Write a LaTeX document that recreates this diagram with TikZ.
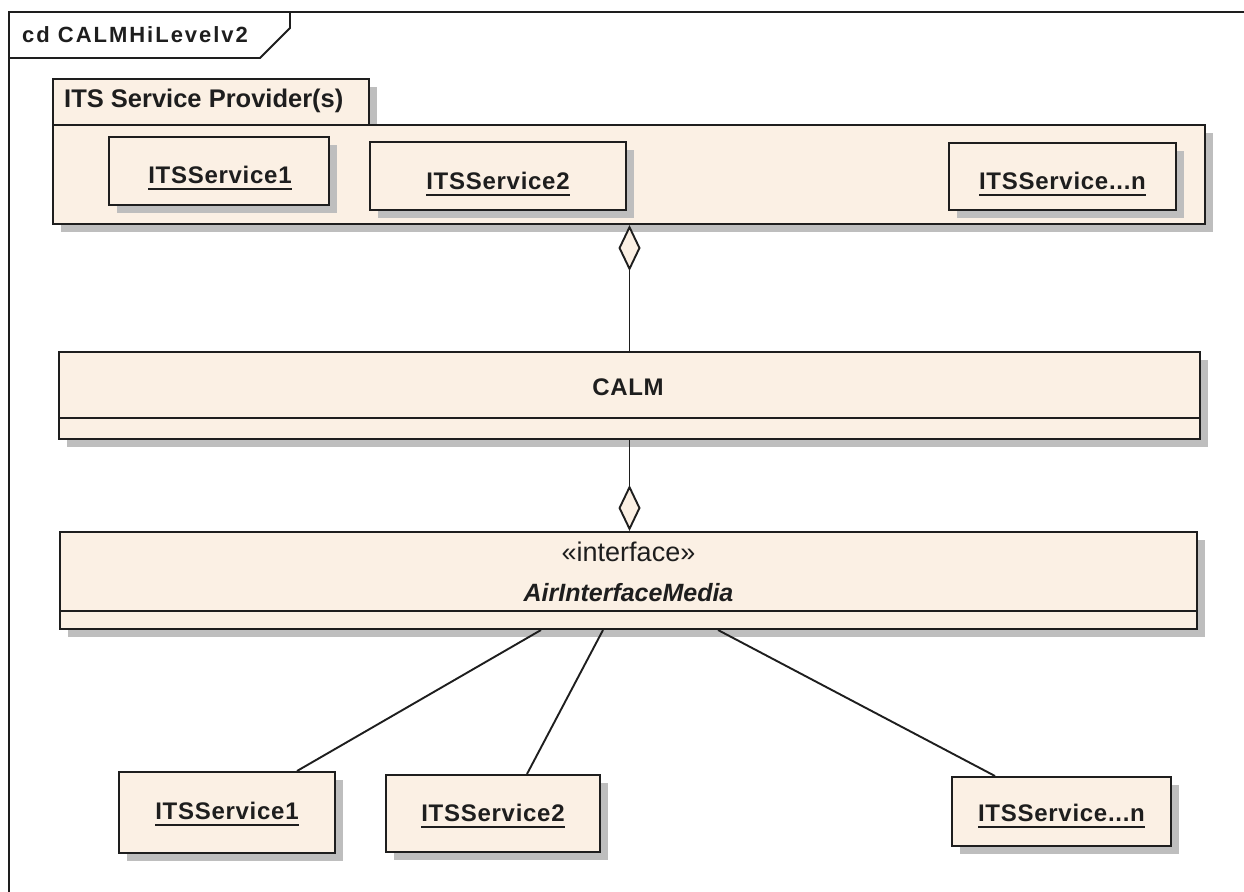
\documentclass[tikz,border=0pt]{standalone}
\usepackage{fontspec}
\setmainfont{Liberation Sans}
\usetikzlibrary{arrows.meta,shadows,calc}
\definecolor{classfill}{RGB}{251,240,228}
\definecolor{shadowgray}{RGB}{190,190,190}
\definecolor{ink}{RGB}{30,30,30}
% underlined instance name, rule a few points under the baseline
\newcommand\ulname[1]{\setbox0\hbox{#1}\rlap{\rule[-6.5pt]{\wd0}{1.8pt}}\box0}
\tikzset{
  classbox/.style={draw=ink, fill=classfill, line width=2pt, inner sep=0pt,
    drop shadow={shadow xshift=8pt, shadow yshift=-8pt, fill=shadowgray, opacity=1}},
  boxlabel/.style={anchor=base, text=ink, inner sep=0pt,
    font=\bfseries\fontsize{24}{28}\selectfont\addfontfeature{LetterSpace=3}},
  link/.style={draw=ink, line width=1.9pt},
  agg/.style={link, -{Diamond[length=46pt, width=22pt, fill=classfill, line width=1.9pt]}},
}
\begin{document}
\begin{tikzpicture}[x=1pt, y=-1pt]
\useasboundingbox (0,0) rectangle (1244,891);
\fill[white] (0,0) rectangle (1244,891);
\begin{scope}
\clip (0,0) rectangle (1244,891);
% diagram frame with its name tab
\draw[link] (9,900) -- (9,12) -- (1260,12);
\draw[link] (9,58) -- (260,58) -- (290,28) -- (290,12);
\end{scope}
\node[anchor=base west, inner sep=0pt, text=ink,
  font=\bfseries\fontsize{22}{26}\selectfont\addfontfeature{LetterSpace=9}]
  (frametitle) at (22,43) {cd CALMHiLevelv2};

% package: tab first, then body
\node[classbox, minimum width=316pt, minimum height=46pt, anchor=north west] (pkgtab) at (52,78) {};
\node[classbox, minimum width=1152pt, minimum height=99pt, anchor=north west] (pkgbody) at (52,124) {};
\node[anchor=base west, inner sep=0pt, text=ink, font=\bfseries\fontsize{25.5}{30}\selectfont]
  (pkgtitle) at (64,107) {ITS Service Provider(s)};

% services inside the package
\node[classbox, minimum width=220pt, minimum height=68pt] (s1) at (219,171) {};
\node[boxlabel] (s1t) at (220,183) {\ulname{ITSService1}};
\node[classbox, minimum width=256pt, minimum height=68pt] (s2) at (498,176) {};
\node[boxlabel] (s2t) at (498,189) {\ulname{ITSService2}};
\node[classbox, minimum width=227pt, minimum height=67pt] (sn) at (1062.5,176.5) {};
\node[boxlabel] (snt) at (1062.5,189) {\ulname{ITSService...n}};

% CALM class
\node[classbox, minimum width=1141pt, minimum height=87pt] (calm) at (629.5,395.5) {};
\draw[link] (calm.west |- 0,418) -- (calm.east |- 0,418);
\node[boxlabel] (calmt) at (628,395) {CALM};

% AirInterfaceMedia interface
\node[classbox, minimum width=1137pt, minimum height=97pt] (iface) at (628.5,580.5) {};
\draw[link] (iface.west |- 0,611) -- (iface.east |- 0,611);
\node[anchor=base, inner sep=0pt, text=ink, font=\fontsize{27}{31}\selectfont]
  (ifacest) at (628.5,561) {«interface»};
\node[boxlabel, font=\bfseries\itshape\fontsize{25}{29}\selectfont]
  (ifacet) at (628.5,601) {AirInterfaceMedia};

% realising services
\node[classbox, minimum width=216pt, minimum height=81pt] (b1) at (227,812.5) {};
\node[boxlabel] (b1t) at (227,819) {\ulname{ITSService1}};
\node[classbox, minimum width=214pt, minimum height=77pt] (b2) at (493,813.5) {};
\node[boxlabel] (b2t) at (493,821) {\ulname{ITSService2}};
\node[classbox, minimum width=219pt, minimum height=69pt] (bn) at (1061.5,811.5) {};
\node[boxlabel] (bnt) at (1061.5,821) {\ulname{ITSService...n}};

% aggregations
\draw[agg] (calm.north) -- (calm.north |- pkgbody.south);
\draw[agg] (calm.south) -- (calm.south |- iface.north);

% associations
\coordinate (i1) at (iface.south -| 541,0);
\coordinate (i2) at (iface.south -| 603,0);
\coordinate (i3) at (iface.south -| 718,0);
\draw[link] (i1) -- (b1.north -| 297,0);
\draw[link] (i2) -- (b2.north -| 527,0);
\draw[link] (i3) -- (bn.north -| 995,0);
\end{tikzpicture}
\end{document}
